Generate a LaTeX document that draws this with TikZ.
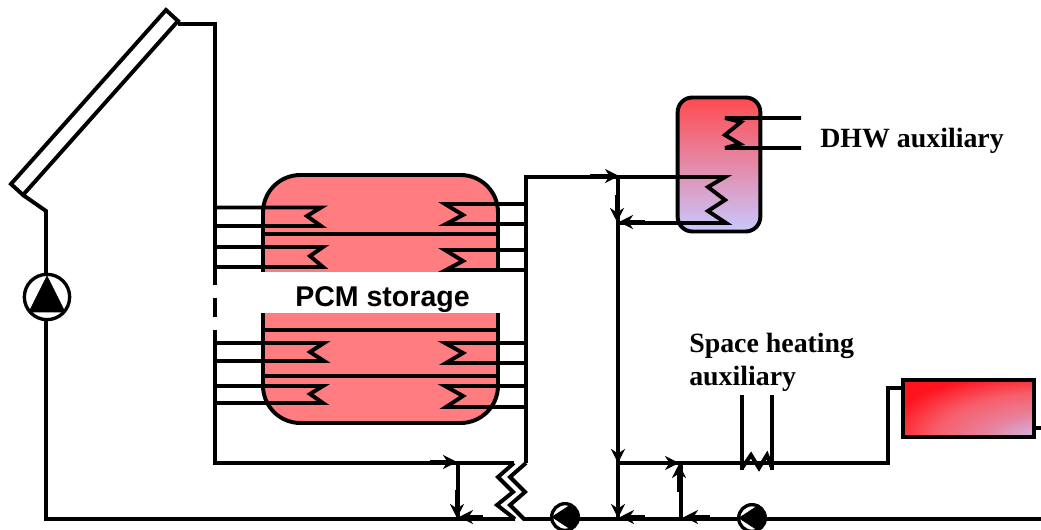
\documentclass[tikz,border=0pt]{standalone}
\usepackage{fontspec}
\setmainfont{Liberation Serif}
\newfontfamily\sansb{Liberation Sans}
\usetikzlibrary{arrows.meta,calc}
\definecolor{pcm}{RGB}{255,125,128}
\definecolor{hotc}{RGB}{255,75,80}
\definecolor{coldc}{RGB}{200,200,255}
\definecolor{redc}{RGB}{255,20,30}
\pgfdeclareradialshading{radiatorshade}{\pgfpoint{36bp}{-36bp}}{%
  color(0bp)=(coldc); color(8bp)=(coldc); color(26bp)=(coldc!45!hotc); color(42bp)=(hotc!85!coldc); color(58bp)=(redc); color(200bp)=(redc)}
\tikzset{
  pipe/.style={line width=2.95pt,line cap=butt,line join=miter,miter limit=6},
  flow/.style={line width=2.95pt,-{Stealth[length=10.5pt,width=10.5pt]}},
  lab/.style={font=\bfseries\fontsize{20.9pt}{24pt}\selectfont,inner sep=0pt,anchor=base west},
  pumpring/.style={circle,draw,line width=2.5pt,fill=white,inner sep=0pt},
  wedge/.style={fill=black,draw=black,line width=0.5pt,line join=round},
}
\begin{document}
\begin{tikzpicture}[x=0.75pt,y=-0.75pt]
\useasboundingbox (0,0) rectangle (1041,530);
% collector
\coordinate (c1) at (166,10); \coordinate (c2) at (178,21);
\coordinate (c3) at (23,195); \coordinate (c4) at (11,184);
\draw[pipe] (c1)--(c2)--(c3)--(c4)--cycle;
\coordinate (hot0) at (178,24); \coordinate (hot1) at (215,24);
\coordinate (hot2) at (215,285);
\draw[pipe] (hot0)--(hot1)--(hot2);
\coordinate (dashA) at (215,298); \coordinate (dashB) at (215,317);
\draw[pipe] (dashA)--(dashB);
\coordinate (hot3) at (215,330); \coordinate (hot4) at (215,463); \coordinate (hot5) at (514,463);
\draw[pipe] (hot3)--(hot4)--(hot5);
% storage
\fill[pcm,rounded corners=28pt] (263,290)--(263,175)--(498,175)--(498,290);
\fill[pcm,rounded corners=28pt] (263,300)--(263,423)--(498,423)--(498,300);
\draw[pipe,rounded corners=28pt] (263,290)--(263,175)--(498,175)--(498,290);
\draw[pipe,rounded corners=28pt] (263,300)--(263,423)--(498,423)--(498,300);
\fill[white] (257,272.5) rectangle (504,313.5);
\foreach \y in {234,330,376} \draw[pipe] (263,\y)--(498,\y);
% left coils
\foreach \a/\m/\b/\e/\k in {207.5/216/226/321/307,247/256/267/323/310,343/352/361/324/310,386/394/403/323/310}
  \draw[pipe] (215,\a)--(\e,\a)--(\k,\m)--(\e,\b)--(215,\b);
% right coils
\foreach \a/\m/\b in {204/215/224,250/261/270,343/353/363,386/396/407}
  \draw[pipe] (526,\a)--(445,\a)--(463,\m)--(446,\b)--(526,\b);
% return to collector
\coordinate (r1) at (23,195); \coordinate (r2) at (46,211); \coordinate (r3) at (46,519); \coordinate (r4) at (515,519);
\draw[pipe] (r1)--(r2)--(r3)--(r4);
% heat exchanger
\draw[pipe] (hot5)--(498,477)--(513,492)--(497,505)--(r4);
\coordinate (s1) at (526,177); \coordinate (s2) at (526,463);
\draw[pipe] (s2)--(s1)--(725,177);
\draw[pipe] (726,223)--(618,223);
\coordinate (s3) at (524,519); \coordinate (s4) at (1041,519);
\draw[pipe] (s2)--(510,477)--(525,492)--(510,505)--(s3)--(s4);
% DHW tank
\node[rectangle,draw,line width=2.95pt,rounded corners=11pt,top color=hotc,bottom color=coldc,minimum width=62pt,minimum height=100.5pt,inner sep=0pt] (tank) at (719,164.5) {};
\draw[pipe] (677,177)--(725,177)--(708,187)--(725,200)--(708,211)--(726,223)--(677,223);
\draw[pipe] (801,118)--(725,118)--(741,122)--(725,135)--(740,144)--(725,148)--(801,148);
% middle vertical
\coordinate (m1) at (618,177); \coordinate (m2) at (618,519);
\draw[pipe] (m1)--(m2);
\coordinate (sh1) at (618,463); \coordinate (sh2) at (888,463); \coordinate (sh3) at (888,388); \coordinate (sh4) at (903,388);
\draw[pipe] (sh1)--(sh2)--(sh3)--(sh4);
\coordinate (b1) at (458,463); \coordinate (b2) at (458,519);
\draw[pipe] (b1)--(b2);
\coordinate (v1) at (681,463); \coordinate (v2) at (681,519);
\draw[pipe] (v1)--(v2);
% flow arrows
\draw[flow] (590,176)--(619,176);
\draw[flow] (617,195)--(617,222);
\draw[flow] (645,222)--(619,222);
\draw[flow] (430,462)--(457,462);
\draw[flow] (457,490)--(457,518);
\draw[flow] (483,517)--(459,517);
\draw[flow] (618,435)--(618,463);
\draw[flow] (618,490)--(618,518);
\draw[flow] (645,517)--(620,517);
\draw[flow] (652,463)--(679,463);
\draw[flow] (679,492)--(679,464);
\draw[flow] (710,517)--(684,517);
% auxiliary coil
\coordinate (aux1) at (742,395); \coordinate (aux2) at (742,470);
\coordinate (aux3) at (772,395); \coordinate (aux4) at (772,470);
\draw[pipe] (aux1)--(aux2);
\draw[pipe] (aux3)--(aux4);
\draw[pipe] (742,468)--(751,455)--(759,468)--(767,455)--(772,468);
% radiator
\node[rectangle,draw,line width=3pt,inner sep=0pt,minimum width=98pt,minimum height=42.5pt,shading=radiatorshade] (rad) at (968.5,408.5) {};
\coordinate (radout) at (1041,428);
\draw[pipe] (1034,428)--(radout);
% pumps
\node[pumpring,minimum size=34pt] (p1) at (47,297) {};
\fill[wedge] (47,276)--(29,312)--(65,312)--cycle;
\node[pumpring,minimum size=20pt] (p2) at (565,517) {};
\fill[wedge] (552,517)--(572,504)--(578.5,517)--(572,530)--cycle;
\node[pumpring,minimum size=20pt] (p3) at (752,518) {};
\fill[wedge] (739,518)--(759,505)--(765.5,518)--(759,531)--cycle;
% labels
\node[font=\sansb\bfseries\fontsize{21.4pt}{25pt}\selectfont,inner sep=0pt,anchor=base] (pcmlabel) at (382.5,307) {PCM storage};
\node[lab] (dhw) at (820,148) {DHW auxiliary};
\node[lab] (sp1) at (689,353) {Space heating};
\node[lab] (sp2) at (689,386) {auxiliary};
\end{tikzpicture}
\end{document}
